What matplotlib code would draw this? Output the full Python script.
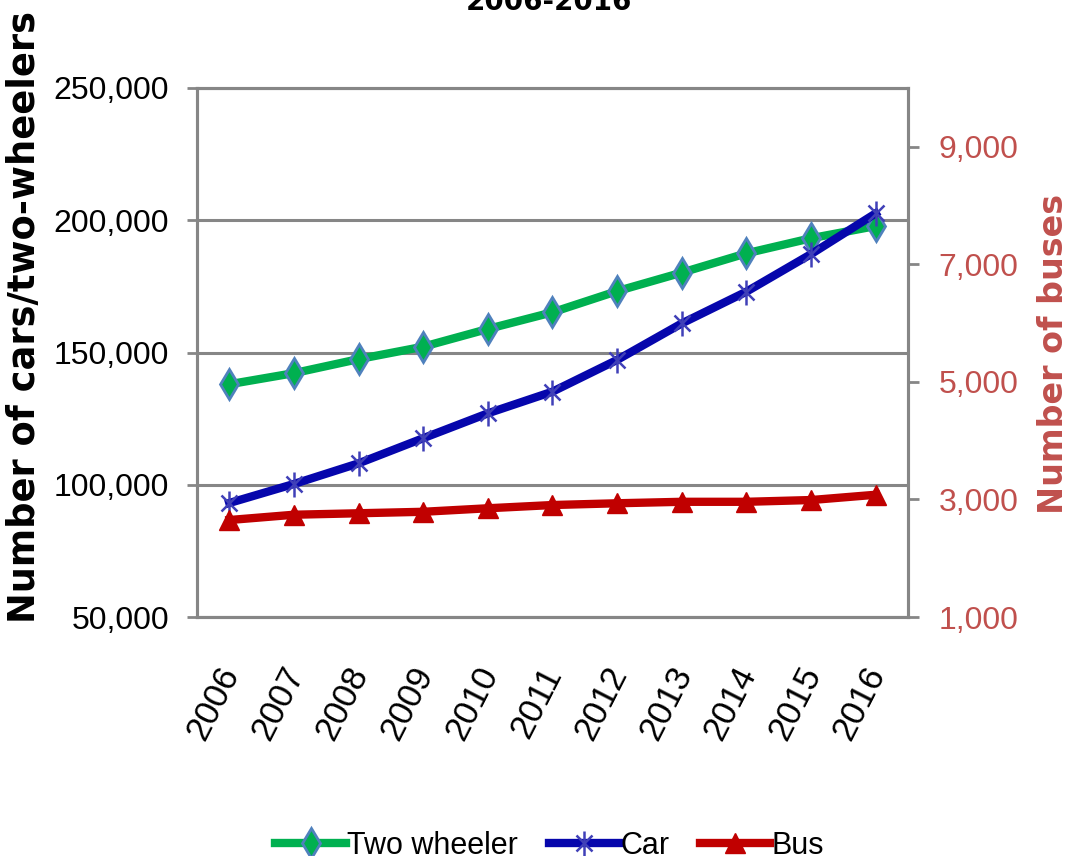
import numpy as np
import matplotlib
matplotlib.use('Agg')
import matplotlib.pyplot as plt
import matplotlib.transforms as mtransforms
from matplotlib.ticker import FuncFormatter, MultipleLocator
from matplotlib.legend_handler import HandlerTuple

# ── Data ───────────────────────────────────────────────
years = ['2006', '2007', '2008', '2009', '2010', '2011',
         '2012', '2013', '2014', '2015', '2016']
two_wheeler = [138000, 142200, 147500, 152200, 158900, 165200,
               173200, 180200, 187500, 193200, 197800]
car = [93100, 100300, 108100, 117600, 127000, 135200,
       147200, 161000, 173000, 187200, 202600]
bus = [2650, 2740, 2765, 2790, 2850, 2905, 2935, 2960, 2960, 2990, 3080]

# ── Style ──────────────────────────────────────────────
SANS = ['Liberation Sans', 'DejaVu Sans']
GRID = '#868686'
GREEN, BLUE, RED = '#00B050', '#0606AC', '#C00000'
RED_TXT = '#C0504D'

fig = plt.figure(figsize=(10.7, 8.56), dpi=100)
ax = fig.add_axes([0.1841, 0.2792, 0.6645, 0.618])
ax2 = ax.twinx()

x = np.arange(len(years))

l_two, = ax.plot(x, two_wheeler, color=GREEN, lw=6, marker='d', ms=15,
                 mfc=GREEN, mec='#4F81BD', mew=2, zorder=3)
l_car, = ax.plot(x, car, color=BLUE, lw=6, marker='x', ms=12,
                 mec='#4040B8', mew=1.8, zorder=4)
l_car2, = ax.plot(x, car, ls='none', marker='|', ms=18,
                  mec='#4040B8', mew=1.8, zorder=4)
l_bus, = ax2.plot(x, bus, color=RED, lw=6, marker='^', ms=14,
                  mfc=RED, mec=RED, zorder=3)

# left axis
ax.set_xlim(-0.5, 10.5)
ax.set_ylim(50000, 250000)
ax.yaxis.set_major_locator(MultipleLocator(50000))
ax.yaxis.set_major_formatter(FuncFormatter(lambda v, p: f'{int(v):,}'))
ax.grid(axis='y', color=GRID, lw=2.2)
ax.set_axisbelow(True)
ax.set_xticks(x)
ax.set_xticklabels(years, rotation=63, ha='right', rotation_mode='anchor',
                   fontsize=25, family=SANS)
ax.tick_params(axis='x', length=0, pad=32)
shift = mtransforms.ScaledTranslation(-13 / 100, 0, fig.dpi_scale_trans)
for t in ax.get_xticklabels():
    t.set_transform(t.get_transform() + shift)
ax.tick_params(axis='y', length=7, width=2, color=GRID, pad=13)
for t in ax.get_yticklabels():
    t.set_family(SANS); t.set_fontsize(23)
ax.set_ylabel('Number of cars/two-wheelers', fontsize=26.5, fontweight='bold',
              va='center')
ax.yaxis.set_label_coords(-0.242, 0.567)

# right axis
ax2.set_ylim(1000, 10000)
ax2.set_yticks([1000, 3000, 5000, 7000, 9000])
ax2.yaxis.set_major_formatter(FuncFormatter(lambda v, p: f'{int(v):,}'))
ax2.tick_params(axis='y', length=8, width=2, color=GRID, pad=14, labelcolor=RED_TXT)
for t in ax2.get_yticklabels():
    t.set_family(SANS); t.set_fontsize(23)
ax2.set_ylabel('Number of buses', fontsize=24, fontweight='bold', color=RED_TXT,
               rotation=90, va='center')
ax2.yaxis.set_label_coords(1.205, 0.497)

for a in (ax, ax2):
    for s in a.spines.values():
        s.set_color(GRID)
        s.set_linewidth(2.2)

# partly clipped title
fig.text(0.513, 1 - 10 / 856, '2006-2016', ha='center', va='baseline',
         fontsize=20, fontweight='bold')

fig.legend([l_two, (l_car, l_car2), l_bus], ['Two wheeler', 'Car', 'Bus'],
           handler_map={tuple: HandlerTuple(ndivide=1, pad=0)},
           loc='center', bbox_to_anchor=(0.514, 0.0117), ncol=3,
           frameon=False, prop={'family': SANS, 'size': 22},
           handlelength=2.3, handletextpad=0.05, columnspacing=1.0)

fig.savefig('out.png', dpi=100, facecolor='white')
